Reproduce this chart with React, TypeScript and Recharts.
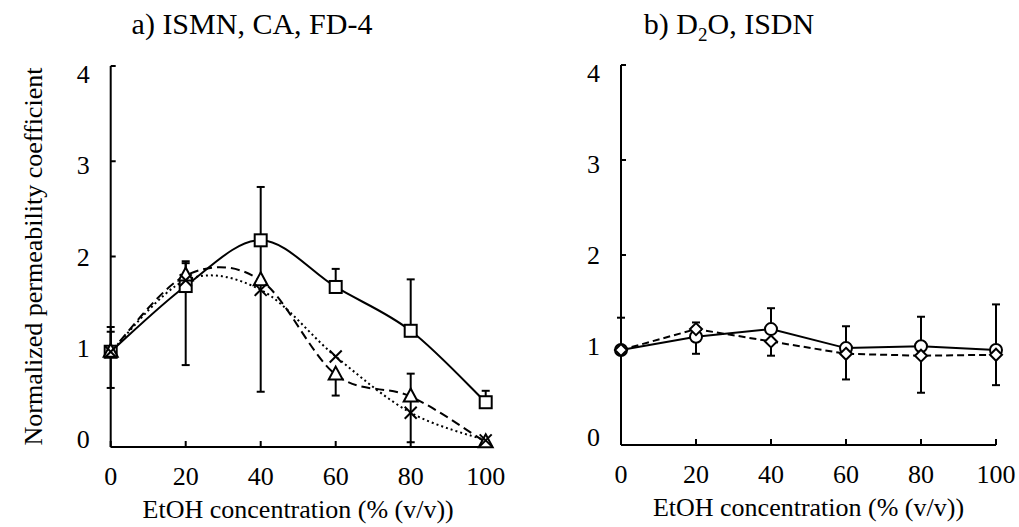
import React from 'react';
import { LineChart, Line, XAxis, YAxis, ErrorBar, Label } from 'recharts';

// ---------- data ----------
const ethanol = [0, 20, 40, 60, 80, 100];
const xTicks = [0, 20, 40, 60, 80, 100];
const yTicks = [0, 1, 2, 3, 4];

// panel a
const ismn = [1.0, 1.69, 2.17, 1.68, 1.22, 0.47];
const ismnErr = [[0.38, 0.26], [0.83, 0.26], [1.59, 0.56], [0, 0.19], [0, 0.54], [0, 0.12]];
const ca = [1.0, 1.8, 1.75, 0.76, 0.53, 0.05];
const caErr = [[0, 0.21], [0, 0.13], null, [0.22, 0], [0.48, 0.24], null];
const fd4 = [1.0, 1.75, 1.65, 0.95, 0.36, 0.07];

// panel b
const d2o = [1.0, 1.14, 1.22, 1.02, 1.04, 1.0];
const d2oErr = [[0, 0.34], [0.18, 0.15], [0.28, 0.22], [0.33, 0.23], [0.49, 0.31], [0.37, 0.48]];
const isdn = [1.0, 1.22, 1.09, 0.96, 0.94, 0.95];

const titleA = 'a) ISMN, CA, FD-4';
const yTitle = 'Normalized permeability coefficient';
const xTitle = 'EtOH concentration (% (v/v))';

const dataA = ethanol.map((x, i) => ({ x, ismn: ismn[i], ismnErr: ismnErr[i], ca: ca[i], caErr: caErr[i], fd4: fd4[i] }));
const dataB = ethanol.map((x, i) => ({ x, d2o: d2o[i], d2oErr: d2oErr[i], isdn: isdn[i] }));

const FONT = "'Liberation Serif', 'Times New Roman', serif";

// Excel-like smoothed curve (Catmull-Rom style bezier)
function smoothCurve(context: any) {
  let pts: number[][] = [];
  return {
    areaStart() {},
    areaEnd() {},
    lineStart() { pts = []; },
    point(x: number, y: number) { pts.push([+x, +y]); },
    lineEnd() {
      if (!pts.length) return;
      context.moveTo(pts[0][0], pts[0][1]);
      for (let i = 0; i < pts.length - 1; i++) {
        const p0 = pts[i - 1] || pts[i];
        const p1 = pts[i];
        const p2 = pts[i + 1];
        const p3 = pts[i + 2] || pts[i + 1];
        context.bezierCurveTo(
          p1[0] + (p2[0] - p0[0]) / 6, p1[1] + (p2[1] - p0[1]) / 6,
          p2[0] - (p3[0] - p1[0]) / 6, p2[1] - (p3[1] - p1[1]) / 6,
          p2[0], p2[1]
        );
      }
    },
  };
}

const SW = 2;
const squareDot = (p: any) => p.cx == null ? <g key={p.index} /> : (
  <rect key={p.index} x={p.cx - 6} y={p.cy - 6} width={12} height={12} fill="#fff" stroke="#000" strokeWidth={SW} />
);
const triDot = (p: any) => p.cx == null ? <g key={p.index} /> : (
  <polygon key={p.index} points={`${p.cx},${p.cy - 8} ${p.cx + 7},${p.cy + 5} ${p.cx - 7},${p.cy + 5}`} fill="#fff" stroke="#000" strokeWidth={SW} />
);
const xDot = (p: any) => p.cx == null ? <g key={p.index} /> : (
  <g key={p.index} stroke="#000" strokeWidth={SW}>
    <line x1={p.cx - 6} y1={p.cy - 6} x2={p.cx + 6} y2={p.cy + 6} />
    <line x1={p.cx - 6} y1={p.cy + 6} x2={p.cx + 6} y2={p.cy - 6} />
  </g>
);
const circleDot = (p: any) => p.cx == null ? <g key={p.index} /> : (
  <circle key={p.index} cx={p.cx} cy={p.cy} r={6} fill="#fff" stroke="#000" strokeWidth={SW} />
);
const diamondDot = (p: any) => p.cx == null ? <g key={p.index} /> : (
  <polygon key={p.index} points={`${p.cx},${p.cy - 6} ${p.cx + 6},${p.cy} ${p.cx},${p.cy + 6} ${p.cx - 6},${p.cy}`} fill="#fff" stroke="#000" strokeWidth={SW} />
);

const YTick = (props: any) => {
  const { x, y, payload } = props;
  const dy = (payload.value - 2) * 4;
  return (
    <text x={x} y={y + dy} dy="0.35em" textAnchor="end" fill="#000" fontSize={26} fontFamily={FONT}>
      {payload.value}
    </text>
  );
};

const axisStyle = { stroke: '#000', strokeWidth: 2 };

export default function App() {
  const xAxisProps = {
    type: 'number' as const,
    dataKey: 'x',
    domain: [0, 100],
    ticks: xTicks,
    interval: 0,
    height: 60,
    axisLine: axisStyle,
    tickLine: axisStyle,
    tickSize: -6,
    tickMargin: 26,
    tick: { fill: '#000', fontSize: 26, fontFamily: FONT },
  };
  const yAxisProps = {
    type: 'number' as const,
    domain: [0, 4],
    ticks: yTicks,
    interval: 0,
    width: 100,
    axisLine: axisStyle,
    tickLine: axisStyle,
    tickSize: -5,
    tickMargin: 26,
    tick: YTick,
  };
  const labelStyle = { fill: '#000', fontSize: 26, fontFamily: FONT };
  return (
    <div style={{ position: 'absolute', left: 0, top: 0, width: 1019, height: 527, background: '#fff', fontFamily: FONT }}>
      <div style={{ position: 'absolute', left: 0, top: 0 }}>
        <LineChart width={510} height={527} data={dataA} margin={{ top: 66, right: 24.3, bottom: 20, left: 10.7 }}>
          <XAxis {...xAxisProps}>
            <Label value={xTitle} position="insideBottom" offset={-11} style={labelStyle} />
          </XAxis>
          <YAxis {...yAxisProps}>
            <Label value={yTitle} angle={-90} position="insideLeft" offset={22} style={{ ...labelStyle, textAnchor: 'middle' }} />
          </YAxis>
          <Line dataKey="ismn" type={smoothCurve as any} stroke="#000" strokeWidth={SW} dot={squareDot} isAnimationActive={false}>
            <ErrorBar dataKey="ismnErr" direction="y" width={4} stroke="#000" strokeWidth={SW} />
          </Line>
          <Line dataKey="ca" type={smoothCurve as any} stroke="#000" strokeWidth={SW} strokeDasharray="9 5" dot={triDot} isAnimationActive={false}>
            <ErrorBar dataKey="caErr" direction="y" width={4} stroke="#000" strokeWidth={SW} />
          </Line>
          <Line dataKey="fd4" type={smoothCurve as any} stroke="#000" strokeWidth={SW} strokeDasharray="2 3" dot={xDot} isAnimationActive={false} />
        </LineChart>
      </div>
      <div style={{ position: 'absolute', left: 510, top: 0 }}>
        <LineChart width={509} height={527} data={dataB} margin={{ top: 65, right: 23, bottom: 22, left: 11 }}>
          <XAxis {...xAxisProps}>
            <Label value={xTitle} position="insideBottom" offset={-11} style={labelStyle} />
          </XAxis>
          <YAxis {...yAxisProps} />
          <Line dataKey="d2o" type="linear" stroke="#000" strokeWidth={SW} dot={circleDot} isAnimationActive={false}>
            <ErrorBar dataKey="d2oErr" direction="y" width={4} stroke="#000" strokeWidth={SW} />
          </Line>
          <Line dataKey="isdn" type="linear" stroke="#000" strokeWidth={SW} strokeDasharray="7 4" dot={diamondDot} isAnimationActive={false} />
        </LineChart>
      </div>
      <div style={{ position: 'absolute', left: 102, top: 9, width: 300, textAlign: 'center', fontSize: 30, lineHeight: '30px', color: '#000', whiteSpace: 'nowrap' }}>
        {titleA}
      </div>
      <div style={{ position: 'absolute', left: 579, top: 9, width: 300, textAlign: 'center', fontSize: 30, lineHeight: '30px', color: '#000', whiteSpace: 'nowrap' }}>
        b) D<span style={{ fontSize: 19, position: 'relative', top: 7 }}>2</span>O, ISDN
      </div>
    </div>
  );
}
